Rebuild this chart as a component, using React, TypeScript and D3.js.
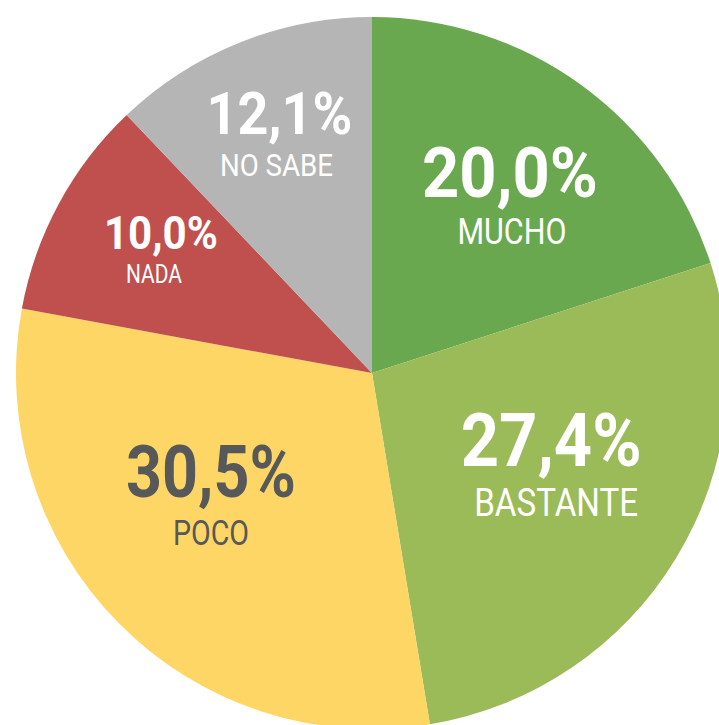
import { useEffect, useRef } from 'react';
import * as d3 from 'd3';

// Survey answers, clockwise from 12 o'clock
const categories = ['MUCHO', 'BASTANTE', 'POCO', 'NADA', 'NO SABE'];
const values = [20.0, 27.4, 30.5, 10.0, 12.1];
const valueLabels = ['20,0%', '27,4%', '30,5%', '10,0%', '12,1%'];
const colors = ['#69a84f', '#9bbb59', '#fdd665', '#c0504d', '#b5b5b5'];

// label placement (polar around the centre) and text sizing per slice
const labelLayout = [
  { r: 224, deg: 38, valueSize: 70, valueWidth: 176, nameSize: 36, nameWidth: 109, nameDx: 2, nameDy: 47, ink: '#ffffff' },
  { r: 202, deg: 117.5, valueSize: 74, valueWidth: 181, nameSize: 38, nameWidth: 164, nameDx: 5, nameDy: 50, ink: '#ffffff' },
  { r: 203, deg: 232.5, valueSize: 73, valueWidth: 170, nameSize: 35, nameWidth: 76, nameDx: 0, nameDy: 48, ink: '#57585a' },
  { r: 245, deg: 300.5, valueSize: 47, valueWidth: 114, nameSize: 25, nameWidth: 56, nameDx: -7, nameDy: 34, ink: '#ffffff' },
  { r: 256, deg: 338.8, valueSize: 59, valueWidth: 146, nameSize: 32, nameWidth: 113, nameDx: -3, nameDy: 42, ink: '#ffffff' },
];

const WIDTH = 719;
const HEIGHT = 725;

export default function App() {
  const svgRef = useRef<SVGSVGElement>(null);

  useEffect(() => {
    if (!svgRef.current) return;

    const cx = 372;
    const cy = 373;
    const radius = 356;

    const svg = d3.select(svgRef.current);
    svg.selectAll('*').remove();

    svg.append('rect').attr('width', WIDTH).attr('height', HEIGHT).attr('fill', '#ffffff');

    const rows = categories.map((name, i) => ({ name, value: values[i], i }));

    const pie = d3.pie<any>()
      .sort(null)
      .value((d: any) => d.value)
      .startAngle(0)
      .endAngle(Math.PI * 2);

    const arc = d3.arc<any>().innerRadius(0).outerRadius(radius);

    const g = svg.append('g').attr('transform', `translate(${cx},${cy})`);

    g.selectAll('path.slice')
      .data(pie(rows))
      .enter()
      .append('path')
      .attr('class', 'slice')
      .attr('d', arc as any)
      .attr('fill', (d: any) => colors[d.data.i]);

    // === labels ===
    const font = '"Roboto", "Liberation Sans", "DejaVu Sans", sans-serif';

    rows.forEach((row, i) => {
      const L = labelLayout[i];
      const a = (L.deg * Math.PI) / 180;
      const x = Math.sin(a) * L.r;
      const y = -Math.cos(a) * L.r;

      g.append('text')
        .attr('x', x - L.valueWidth / 2)
        .attr('y', y)
        .attr('textLength', L.valueWidth)
        .attr('lengthAdjust', 'spacingAndGlyphs')
        .attr('font-family', font)
        .attr('font-weight', 700)
        .attr('font-size', L.valueSize)
        .attr('fill', L.ink)
        .text(valueLabels[i]);

      g.append('text')
        .attr('x', x + L.nameDx - L.nameWidth / 2)
        .attr('y', y + L.nameDy)
        .attr('textLength', L.nameWidth)
        .attr('lengthAdjust', 'spacingAndGlyphs')
        .attr('font-family', font)
        .attr('font-weight', 400)
        .attr('font-size', L.nameSize)
        .attr('fill', L.ink)
        .text(row.name);
    });
  }, []);

  return (
    <svg
      ref={svgRef}
      width={WIDTH}
      height={HEIGHT}
      style={{ position: 'absolute', left: 0, top: 0, display: 'block' }}
    />
  );
}
